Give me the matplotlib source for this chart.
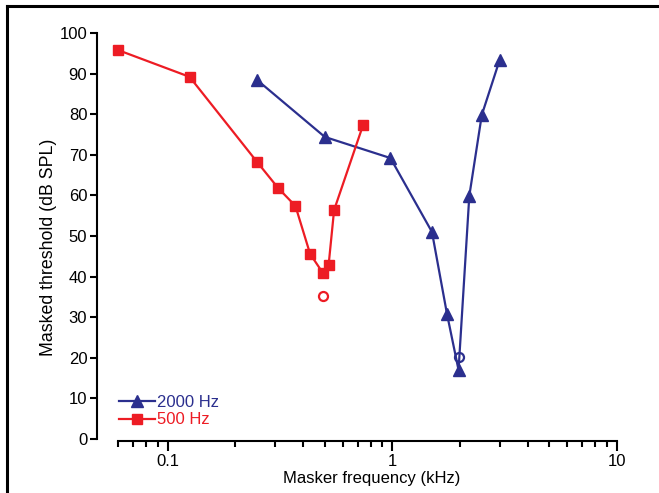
import matplotlib
matplotlib.use("Agg")
import matplotlib.pyplot as plt
from matplotlib.lines import Line2D
from matplotlib.ticker import FixedLocator, NullFormatter

plt.rcParams['font.family'] = ['Liberation Sans', 'DejaVu Sans']

# 2000 Hz probe (blue triangles)
f2000_x = [0.25, 0.5, 0.98, 1.5, 1.75, 1.97, 2.2, 2.5, 3.0]
f2000_y = [88.4, 74.4, 69.2, 51.0, 30.8, 17.0, 59.9, 79.8, 93.3]
f2000_open_x = [1.97]
f2000_open_y = [20.2]

# 500 Hz probe (red squares)
f500_x = [0.06, 0.125, 0.25, 0.31, 0.37, 0.43, 0.49, 0.52, 0.55, 0.74]
f500_y = [95.8, 89.2, 68.2, 61.8, 57.4, 45.6, 40.9, 42.9, 56.4, 77.3]
f500_open_x = [0.49]
f500_open_y = [35.2]

xticks_major = [0.1, 1, 10]
xtick_labels = ["0.1", "1", "10"]
xticks_minor = [0.06, 0.07, 0.08, 0.09, 0.2, 0.3, 0.4, 0.5, 0.6, 0.7, 0.8, 0.9,
                2, 3, 4, 5, 6, 7, 8, 9]
yticks = list(range(0, 101, 10))

blue = "#2B2F8E"
red = "#ED1C24"

W, H = 659, 493
fig = plt.figure(figsize=(W / 100, H / 100), dpi=100)
ax = fig.add_axes([118 / W, 1 - 439 / H, (617 - 118) / W, (439 - 33) / H])

ax.plot(f2000_x, f2000_y, color=blue, lw=1.6, marker="^", ms=9, mec=blue,
        mfc=blue, clip_on=False, label="2000 Hz", zorder=3)
ax.plot(f500_x, f500_y, color=red, lw=1.6, marker="s", ms=7, mec=red,
        mfc=red, clip_on=False, label="500 Hz", zorder=3)
ax.plot(f2000_open_x, f2000_open_y, ls="none", marker="o", ms=6.5, mfc="none",
        mec=blue, mew=1.6, clip_on=False, zorder=4)
ax.plot(f500_open_x, f500_open_y, ls="none", marker="o", ms=6.5, mfc="none",
        mec=red, mew=1.6, clip_on=False, zorder=4)

ax.set_xscale("log")
ax.set_xlim(0.06, 10)
ax.set_ylim(0, 100)
ax.xaxis.set_major_locator(FixedLocator(xticks_major))
ax.set_xticklabels(xtick_labels)
ax.xaxis.set_minor_locator(FixedLocator(xticks_minor))
ax.xaxis.set_minor_formatter(NullFormatter())
ax.set_yticks(yticks)

for s in ["top", "right"]:
    ax.spines[s].set_visible(False)
ax.spines["left"].set_position(("outward", 21 * 0.72))
ax.spines["bottom"].set_position(("outward", 2 * 0.72))
for s in ["left", "bottom"]:
    ax.spines[s].set_linewidth(1.5)

ax.tick_params(axis="y", which="major", length=5, width=1.5, labelsize=12, pad=2)
ax.tick_params(axis="x", which="major", length=7, width=1.5, labelsize=12, pad=2)
ax.tick_params(axis="x", which="minor", length=4, width=1.5)

ax.set_xlabel("Masker frequency (kHz)", fontsize=12, labelpad=2)
ax.xaxis.label.set_x(0.508)
ax.set_ylabel("Masked threshold (dB SPL)", fontsize=12.8, labelpad=2)
ax.yaxis.label.set_y(0.473)

leg = ax.legend(loc="lower left", bbox_to_anchor=(-0.011, 0.012), frameon=False,
                fontsize=12, handlelength=2.15, handletextpad=0.12,
                labelspacing=0.15, borderaxespad=0, labelcolor="linecolor")

# partial frame around the figure (top and left edges)
fig.add_artist(Line2D([7 / W, 1], [1 - 6 / H, 1 - 6 / H], color="black",
                      lw=2.2, transform=fig.transFigure))
fig.add_artist(Line2D([7 / W, 7 / W], [0, 1 - 6 / H], color="black",
                      lw=2.2, transform=fig.transFigure))

fig.savefig("out.png", dpi=100)
